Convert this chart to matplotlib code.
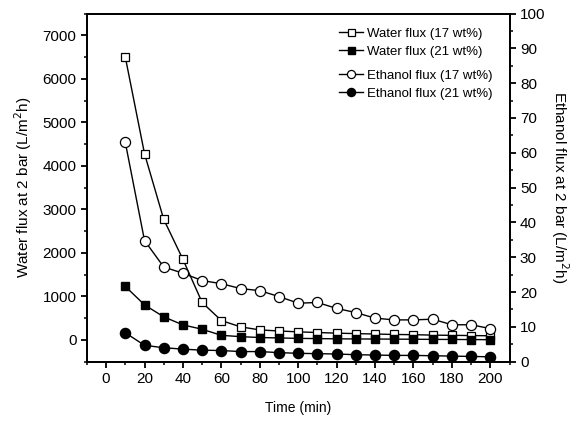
# Fluxo de água e etanol ao longo do tempo (2 bar)
import matplotlib.pyplot as plt
import numpy as np
from matplotlib.ticker import MultipleLocator

plt.rcParams['font.family'] = ['Liberation Sans', 'DejaVu Sans']

# Dados
tempo = [10, 20, 30, 40, 50, 60, 70, 80, 90, 100,
         110, 120, 130, 140, 150, 160, 170, 180, 190, 200]

agua_17 = [6500, 4280, 2770, 1850, 860, 445, 300, 230, 205, 185,
           170, 155, 145, 135, 125, 120, 110, 105, 100, 95]
agua_21 = [1230, 805, 530, 345, 245, 105, 75, 55, 45, 35,
           30, 25, 22, 20, 18, 15, 12, 10, 8, 5]

etanol_17 = [63.0, 34.8, 27.2, 25.4, 23.3, 22.4, 21.0, 20.4, 18.7, 16.8,
             17.0, 15.3, 14.1, 12.5, 12.0, 12.0, 12.2, 10.6, 10.6, 9.5]
etanol_21 = [8.3, 4.7, 4.0, 3.6, 3.3, 3.2, 2.9, 2.9, 2.6, 2.4,
             2.3, 2.2, 2.0, 1.9, 1.8, 1.8, 1.7, 1.6, 1.5, 1.4]

fig = plt.figure(figsize=(5.87, 4.23), dpi=100)
ax = fig.add_axes([0.148, 0.145, 0.72, 0.823])
ax2 = ax.twinx()

# Fluxo de água (eixo esquerdo)
l1, = ax.plot(tempo, agua_17, color='black', lw=1, marker='s', ms=6.3,
              mfc='white', mec='black', mew=0.9, label='Water flux (17 wt%)')
l2, = ax.plot(tempo, agua_21, color='black', lw=1, marker='s', ms=6.3,
              mfc='black', mec='black', label='Water flux (21 wt%)')

# Fluxo de etanol (eixo direito)
l3, = ax2.plot(tempo, etanol_17, color='black', lw=1, marker='o', ms=7.3,
               mfc='white', mec='black', mew=0.9, label='Ethanol flux (17 wt%)')
l4, = ax2.plot(tempo, etanol_21, color='black', lw=1, marker='o', ms=7.3,
               mfc='black', mec='black', label='Ethanol flux (21 wt%)')

ax.set_xlim(-10, 210)
ax.set_ylim(-500, 7500)
ax2.set_ylim(0, 100)

ax.set_xticks(np.arange(0, 201, 20))
ax.xaxis.set_minor_locator(MultipleLocator(10))
ax.set_yticks(np.arange(0, 7001, 1000))
ax.yaxis.set_minor_locator(MultipleLocator(500))
ax2.set_yticks(np.arange(0, 101, 10))
ax2.yaxis.set_minor_locator(MultipleLocator(5))

for a in (ax, ax2):
    for s in a.spines.values():
        s.set_linewidth(1.3)
    a.tick_params(which='major', direction='out', length=4, width=1.3, labelsize=11)
    a.tick_params(which='minor', direction='out', length=2.5, width=1.1)

ax.set_xlabel('Time (min)', fontsize=10, labelpad=11)
ax.set_ylabel('Water flux at 2 bar (L/m$^2$h)', fontsize=11, labelpad=6)
ax2.set_ylabel('Ethanol flux at 2 bar (L/m$^2$h)', fontsize=11, rotation=270, labelpad=18)

# Duas legendas, uma para cada eixo
opcoes = dict(frameon=False, fontsize=9.5, handlelength=1.8, handletextpad=0.3,
              labelspacing=0.45, markerscale=0.8, borderaxespad=0.0)
leg1 = ax2.legend(handles=[l1, l2], loc='upper left',
                  bbox_to_anchor=(0.585, 0.975), **opcoes)
ax2.add_artist(leg1)
ax2.legend(handles=[l3, l4], loc='upper left',
           bbox_to_anchor=(0.585, 0.855), **opcoes)

fig.savefig('out.png', dpi=100)
